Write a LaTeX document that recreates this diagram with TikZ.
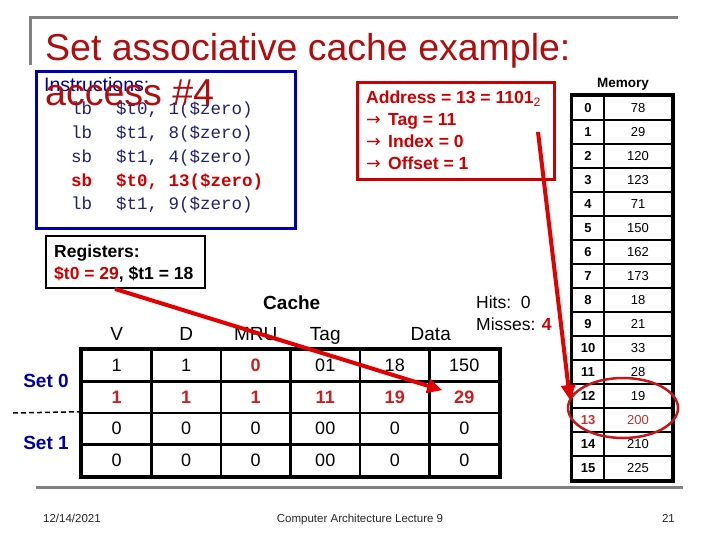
\documentclass[tikz,border=0pt]{standalone}
\usepackage{fontspec}
\setmainfont{Liberation Sans}
\setmonofont{Liberation Mono}
\newfontfamily\symfont{DejaVu Sans}
\usetikzlibrary{arrows.meta, positioning, calc, shapes.geometric}
\definecolor{titlered}{RGB}{176,14,14}
\definecolor{addrred}{RGB}{204,0,0}
\definecolor{cellred}{RGB}{204,30,30}
\definecolor{memred}{RGB}{190,50,50}
\definecolor{arrowred}{RGB}{226,0,0}
\definecolor{ringred}{RGB}{196,24,24}
\definecolor{setblue}{RGB}{0,0,170}
\definecolor{boxblue}{RGB}{0,0,178}
\definecolor{codeblue}{RGB}{32,32,110}
\definecolor{framegray}{RGB}{128,128,128}

\begin{document}
\begin{tikzpicture}[
    x=1pt, y=1pt,
    >={Triangle[length=15pt, width=14pt]},
    fs/.style={font=\fontsize{#1}{#1}\selectfont, inner sep=0pt},
    bfs/.style={font=\fontsize{#1}{#1}\selectfont\bfseries, inner sep=0pt},
    frame/.style={draw=framegray, line width=3pt},
    code/.style={font=\fontsize{17.5}{17.5}\ttfamily, text=codeblue, inner sep=0pt, anchor=base west},
    hotcode/.style={font=\fontsize{17.5}{17.5}\ttfamily\bfseries, text=addrred, inner sep=0pt, anchor=base west},
    addrtxt/.style={bfs=17.5, text=addrred, anchor=base west},
    cell/.style={draw, line width=2.5pt, minimum width=69.5pt, minimum height=31.5pt, fs=18},
    redcell/.style={cell, bfs=18, text=cellred},
    hdr/.style={fs=19, anchor=base},
    memidx/.style={draw, line width=2pt, minimum width=32pt, minimum height=24pt, bfs=13},
    memval/.style={draw, line width=2pt, minimum width=68pt, minimum height=24pt, fs=13},
    setlbl/.style={bfs=19, text=setblue},
    foot/.style={fs=11.5, text=black!85},
    redarrow/.style={->, draw=arrowred, line width=4pt},
]
\useasboundingbox (0,0) rectangle (720,-540);
% ----- slide frame and title
\draw[frame] (30,-65) -- (30,-18) -- (678,-18);
\draw[frame] (36,-487) -- (683,-487);
\node[fs=37.5, text=titlered, anchor=base west] (title) at (45,-61) {Set associative cache example:};
% ----- instructions
\node[draw=boxblue, line width=3pt, minimum width=259pt, minimum height=157pt] (instr) at (165.5,-150.5) {};
\node[fs=19.5, text=boxblue!80!black, anchor=base west] (instrlbl) at (44,-92) {Instructions:};
\foreach \op/\arg [count=\i] in {lb/{\$t0, 1(\$zero)}, lb/{\$t1, 8(\$zero)}, sb/{\$t1, 4(\$zero)}, sb/{\$t0, 13(\$zero)}, lb/{\$t1, 9(\$zero)}} {
  \ifnum\i=4 \tikzset{cur/.style={hotcode}}\else\tikzset{cur/.style={code}}\fi
  \node[cur] (op\i) at (71,{-115-23.75*(\i-1)}) {\op};
  \node[cur] (arg\i) at (116,{-115-23.75*(\i-1)}) {\arg};
}
\node[fs=37.5, text=titlered, anchor=base west] (access) at (45,-106) {access \#4};
% ----- address split
\node[draw=addrred, line width=3pt, minimum width=197pt, minimum height=97pt] (addr) at (455.5,-131.5) {};
\node[addrtxt] (addr1) at (366,-104) {Address = 13 = 1101\textsubscript{\mdseries 2}};
\foreach \t [count=\i] in {Tag = 11, Index = 0, Offset = 1} {
  \node[addrtxt] (addr\i+1) at (366,{-104-21.7*\i}) {\makebox[22pt][l]{\symfont\mdseries →}\t};
}
% ----- registers
\node[draw, line width=1.3pt, minimum width=159pt, minimum height=52pt] (regs) at (125.5,-262) {};
\node[bfs=17.5, anchor=base west] (reg1) at (54,-258) {Registers:};
\node[bfs=17.5, anchor=base west] (reg2) at (54,-279) {\textcolor{addrred}{\$t0 = 29}, \$t1 = 18};
% ----- cache: 2 sets x 2 ways
\foreach \row [count=\r] in {{1,1,0,01,18,150},{1,1,1,11,19,29},{0,0,0,00,0,0},{0,0,0,00,0,0}} {
  \foreach \v [count=\k] in \row {
    \tikzset{cur/.style={cell}}
    \ifnum\r=2 \tikzset{cur/.style={redcell}}\fi
    \ifnum\r\k=13 \tikzset{cur/.style={redcell}}\fi
    \node[cur] (c\r\k) at ({82+69.5*(\k-0.5)},{-350-31.5*(\r-0.5)}) {\v};
  }
}
\draw[line width=3pt] (c11.north west) rectangle (c46.south east);
\node[bfs=19, anchor=base] (cachelbl) at ($(c13.north east)+(0,39)$) {Cache};
\foreach \h [count=\k] in {V, D, MRU, Tag} {
  \node[hdr] (h\k) at ($(c1\k.north)+(0,8)$) {\h};
}
\node[hdr] (h5) at ($(c15.north east)+(0,8)$) {Data};
\node[fs=17.5, anchor=base west] (hits) at (476,-308) {Hits:\ \ 0};
\node[fs=17.5, anchor=base west] (misses) at (476,-330) {Misses: \textcolor{addrred}{\bfseries 4}};
\node[setlbl] (set0) at (46,-381) {Set 0};
\node[setlbl] (set1) at (46,-443) {Set 1};
\coordinate (dashstart) at (13,-413);
\draw[line width=1.5pt, dash pattern=on 5pt off 3pt] (dashstart) -- (c31.north west);
% ----- memory
\node[bfs=13.5, anchor=base] (memlbl) at (623,-88) {Memory};
\foreach \val [count=\n from 0] in {78,29,120,123,71,150,162,173,18,21,33,28,19,200,210,225} {
  \tikzset{curm/.style={}}
  \ifnum\n=13 \tikzset{curm/.style={text=memred}}\fi
  \node[memidx, curm] (i\n) at (588,{-96-24*(\n+0.5)}) {\n};
  \node[memval, curm] (v\n) at (638,{-96-24*(\n+0.5)}) {\val};
}
\draw[line width=3pt] (i0.north west) rectangle (v15.south east);
\node[draw=ringred, ellipse, line width=2.5pt, minimum width=110pt, minimum height=60pt] (ring) at (623,-408) {};
% ----- the store: $t0 goes to address 13
\coordinate (tagpt) at (538,-132);
\coordinate (r29) at (115,-289);
\draw[redarrow] (tagpt) -- ($(i12.west)+(-1,-4)$);
\draw[redarrow] (r29) -- ($(c26.center)+(-22,7)$);
% ----- footer
\node[foot, anchor=base west] (date) at (43,-522) {12/14/2021};
\node[foot, anchor=base] (lecture) at (360,-522) {Computer Architecture Lecture 9};
\node[foot, anchor=base east] (pagenum) at (675,-522) {21};
\end{tikzpicture}
\end{document}
